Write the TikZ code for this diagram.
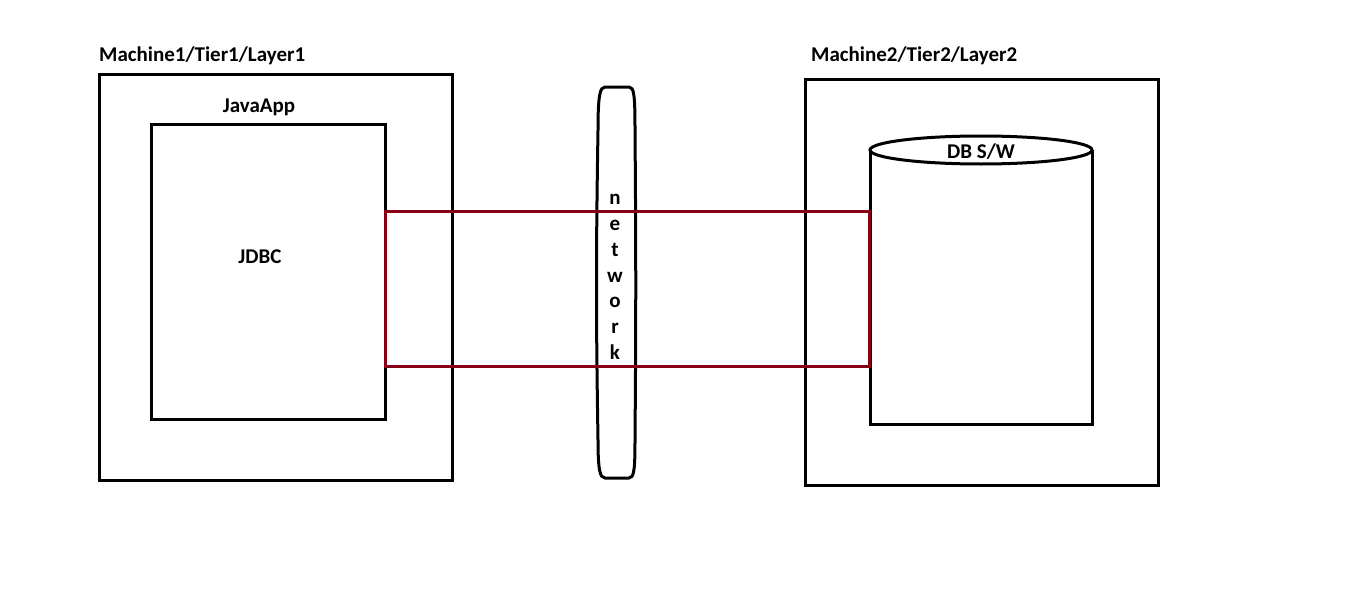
\documentclass[tikz,border=0pt]{standalone}
\usepackage{fontspec}
\setmainfont{Carlito}
\definecolor{linkred}{RGB}{136,0,21}

\begin{document}
\begin{tikzpicture}[x=1pt,y=-1pt]
    \tikzstyle{every node}=[font=\fontsize{21}{25}\selectfont\bfseries, inner sep=0pt]
    \tikzstyle{box}=[draw, line width=3pt, rectangle]
    \tikzstyle{pipe}=[draw=linkred, line width=3pt, rectangle]
    \useasboundingbox (0,0) rectangle (1360,594);
    % machine 1
    \node[box, minimum width=353pt, minimum height=405pt] (m1) at (275.5,277.5) {};
    \node[anchor=base west] (m1label) at (99,62) {Machine1/Tier1/Layer1};
    \node[box, minimum width=234pt, minimum height=295pt] (app) at (268,271.5) {};
    \node[anchor=base] (applabel) at (259,112) {JavaApp};
    \node[anchor=base] (jdbc) at (260,263) {JDBC};
    % network
    \draw[line width=3pt] (605,87) -- (629,87)
        .. controls (634,87) and (635,95) .. (635,130)
        .. controls (636,250) and (636,320) .. (635,440)
        .. controls (635,470) and (634,478) .. (629,478) -- (605,478)
        .. controls (600,478) and (598,470) .. (598,440)
        .. controls (596,320) and (596,250) .. (598,130)
        .. controls (598,95) and (600,87) .. (605,87) -- cycle;
    \node[align=center, font=\fontsize{21}{25.8}\selectfont\bfseries] (net) at (615,277) {n\\e\\t\\w\\o\\r\\k};
    % machine 2
    \node[box, minimum width=353pt, minimum height=405pt] (m2) at (981.5,282.5) {};
    \node[anchor=base west] (m2label) at (811,62) {Machine2/Tier2/Layer2};
    \draw[line width=3pt] (870,150) -- (870,424) -- (1092,424) -- (1092,150);
    \draw[line width=3pt, fill=white] (981,150) ellipse (111 and 14);
    \node[anchor=base] (db) at (981,158) {DB S/W};
    % connection
    \node[pipe, minimum width=484pt, minimum height=155pt] (conn) at (627,288.5) {};
\end{tikzpicture}
\end{document}
